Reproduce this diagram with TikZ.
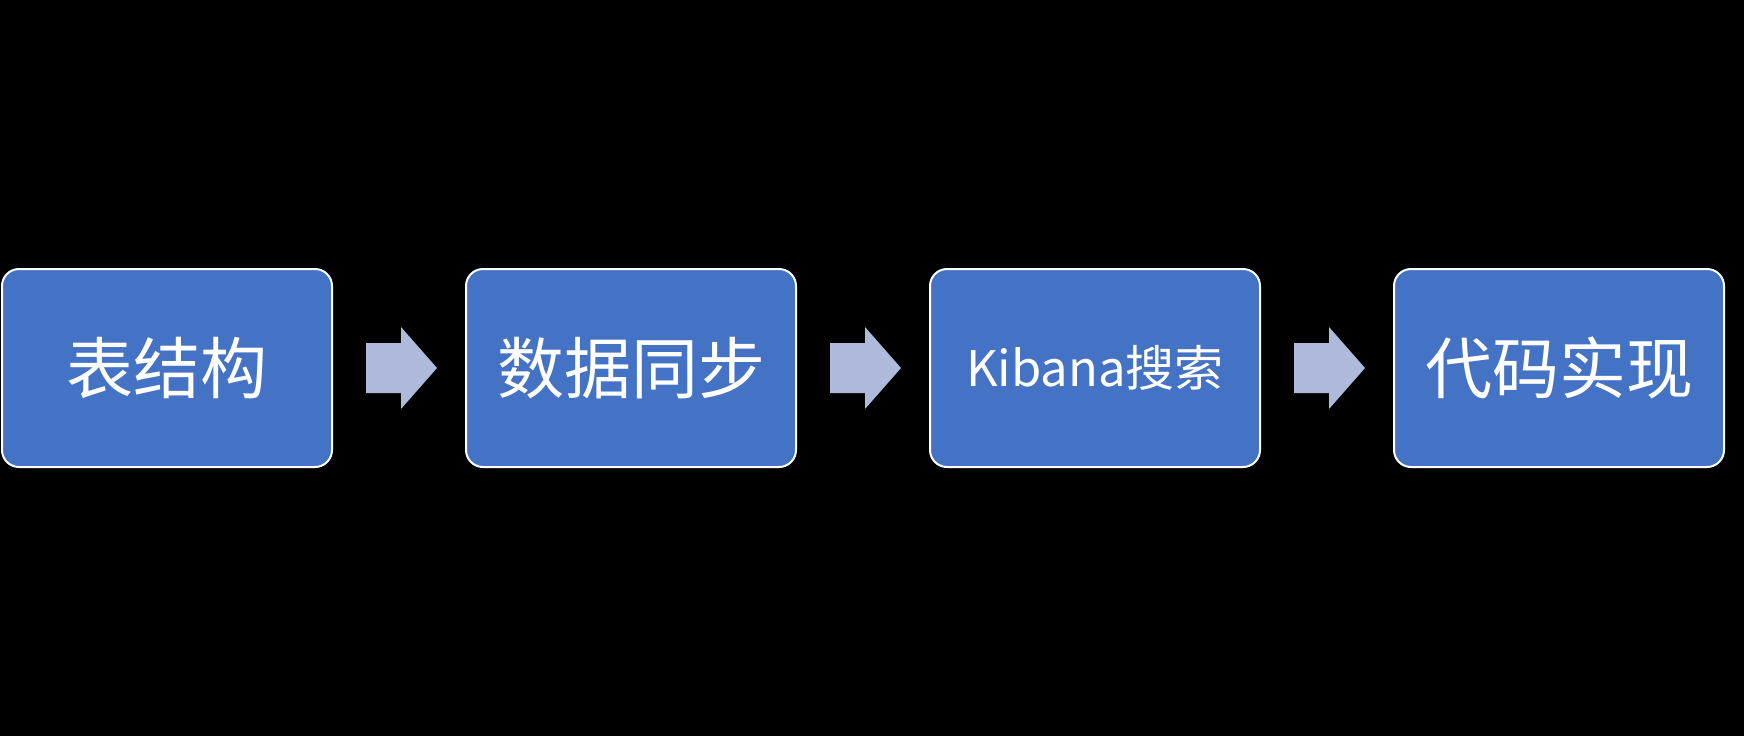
\documentclass[tikz,border=0pt]{standalone}
\usepackage{fontspec}
\newfontfamily\cjk{Noto Sans CJK SC}
\usetikzlibrary{calc}
\definecolor{boxblue}{HTML}{4472C4}
\definecolor{arrowfill}{HTML}{AFB9DC}
\tikzset{
  stepbox/.style={draw=white, line width=2pt, fill=boxblue, rounded corners=17pt,
    minimum width=330pt, minimum height=198pt, inner sep=0pt, text=white,
    font=\cjk\fontsize{67}{80}\selectfont},
  smalltext/.style={font=\cjk\fontsize{49}{58}\selectfont},
  blockarrow/.style={fill=arrowfill, draw=none}
}
\begin{document}
\begin{tikzpicture}[x=1pt,y=-1pt]
\fill[black] (0,0) rectangle (1744,736);
\useasboundingbox (0,0) rectangle (1744,736);
\node[stepbox] (b1) at (167,368) {表结构};
\node[stepbox] (b2) at (631,368) {数据同步};
\node[stepbox] (b3) at (1095,368) {};
\node[stepbox] (b4) at (1559,368) {代码实现};
\node[text=white, smalltext] (t3) at (b3.center) {Kibana搜索};
\foreach \a/\b in {b1/b2, b2/b3, b3/b4} {
  \fill[blockarrow] ($(\a.east)+(33,-25)$) -- ($(\a.east)+(68,-25)$) -- ($(\a.east)+(68,-41)$)
    -- ($(\a.east)+(104,0)$) -- ($(\a.east)+(68,41)$) -- ($(\a.east)+(68,25)$)
    -- ($(\a.east)+(33,25)$) -- cycle;
}
\end{tikzpicture}
\end{document}
